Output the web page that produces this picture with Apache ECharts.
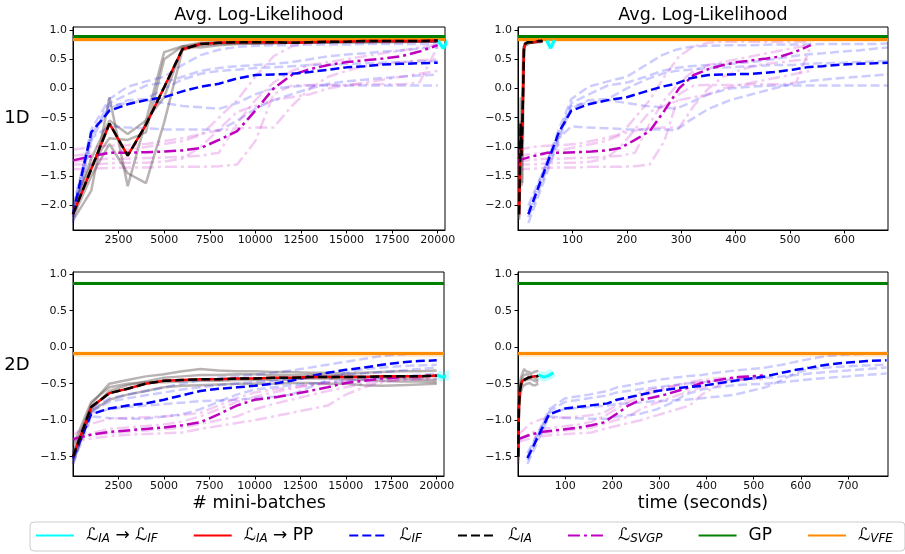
<!DOCTYPE html>
<html><head><meta charset="utf-8">
<script src="https://cdn.jsdelivr.net/npm/echarts@6/dist/echarts.min.js"></script>
<style>html,body{margin:0;padding:0;background:#fff}#chart{width:905px;height:554px}</style>
</head><body><div id="chart"></div>
<script>
// ---- evaluation points ----
const batches = [0,1000,2000,3000,4000,5000,6000,7000,8000,9000,10000,11000,12000,13000,14000,15000,16000,17000,18000,19000,20000];

// wall-clock time (s) at each evaluation point, per method
const timeIA1D   = [2,3.5,5,6.5,8,9.5,11,13,15.5,18,20.5,23,25.5,28,30.5,33,35.5,38,40.5,43,45];
const timeIF1D   = [19,75,98,130,165,200,235,265,290,315,350,390,430,470,505,530,560,595,625,655,680];
const timeSVGP1D = [0,27,54,81,108,135,161,188,215,242,269,296,323,350,377,404,430,457,484,511,538];
const timeIA2D   = [0.5,2,3.5,5,7,9,11,13,15,17,19,21,23,25,27,29,31,34,37,40,43];
const timeIF2D   = [20,66,100,150,190,210,255,295,330,355,390,420,460,525,560,590,620,655,700,740,782];
const timeSVGP2D = [0.5,26,52,78,104,130,156,182,208,234,260,286,312,338,364,390,416,442,468,494,520];

// ---- 1D: average log-likelihood ----
const ia1D   = [-2.15,-1.38,-0.60,-1.15,-0.62,0.02,0.67,0.76,0.78,0.79,0.79,0.79,0.78,0.79,0.80,0.80,0.81,0.81,0.81,0.81,0.82];
const if1D   = [-2.15,-0.75,-0.38,-0.27,-0.20,-0.15,-0.05,0.03,0.08,0.17,0.23,0.24,0.25,0.28,0.32,0.36,0.38,0.41,0.42,0.43,0.44];
const svgp1D = [-1.23,-1.16,-1.10,-1.10,-1.09,-1.08,-1.06,-1.02,-0.88,-0.73,-0.38,0.00,0.23,0.33,0.40,0.45,0.48,0.51,0.55,0.63,0.74];
const iaRuns1D = [
  [-2.25,-1.75,-0.15,-1.67,-0.55,0.62,0.72,0.78,0.79,0.79,0.79,0.80,0.80,0.80,0.80,0.81,0.81,0.81,0.81,0.81,0.82],
  [-2.05,-1.20,-0.55,-0.78,-0.55,-0.15,0.70,0.77,0.78,0.78,0.78,0.79,0.79,0.79,0.79,0.80,0.80,0.80,0.80,0.80,0.80],
  [-2.20,-1.50,-0.95,-1.45,-1.62,-0.58,0.65,0.74,0.76,0.77,0.77,0.78,0.78,0.78,0.79,0.79,0.79,0.80,0.80,0.80,0.80],
  [-2.00,-1.30,-0.85,-0.88,-0.75,0.50,0.72,0.70,0.74,0.76,0.77,0.77,0.78,0.78,0.78,0.79,0.79,0.79,0.79,0.80,0.80]
];
const ifRuns1D = [
  [-2.10,-0.70,-0.18,0.03,0.12,0.20,0.40,0.57,0.66,0.71,0.73,0.74,0.74,0.75,0.75,0.75,0.76,0.76,0.76,0.76,0.77],
  [-2.30,-0.90,-0.30,-0.25,-0.20,-0.25,-0.30,-0.32,-0.35,-0.25,-0.10,0.00,0.03,0.05,0.05,0.05,0.05,0.05,0.05,0.05,0.05],
  [-2.00,-0.80,-0.25,-0.10,0.05,0.10,0.20,0.30,0.35,0.38,0.40,0.42,0.45,0.50,0.55,0.58,0.60,0.63,0.65,0.68,0.70],
  [-2.20,-0.85,-0.65,-0.67,-0.68,-0.70,-0.70,-0.70,-0.72,-0.55,-0.35,-0.20,-0.10,0.00,0.08,0.12,0.15,0.18,0.20,0.22,0.24],
  [-2.15,-0.80,-0.35,-0.20,-0.18,0.00,0.15,0.25,0.30,0.32,0.35,0.36,0.38,0.40,0.40,0.42,0.43,0.44,0.45,0.46,0.47]
];
const svgpRuns1D = [
  [-1.38,-1.37,-1.36,-1.35,-1.35,-1.34,-1.34,-1.34,-1.33,-1.30,-0.90,-0.10,0.05,0.06,0.06,0.06,0.07,0.07,0.07,0.10,0.72],
  [-1.15,-1.12,-1.10,-1.05,-1.00,-0.95,-0.90,-0.80,-0.50,-0.20,0.20,0.55,0.72,0.78,0.80,0.80,0.80,0.80,0.80,0.80,0.80],
  [-1.05,-1.00,-0.98,-0.97,-0.95,-0.90,-0.85,-0.78,-0.72,-0.68,-0.67,-0.67,-0.30,0.00,0.20,0.30,0.38,0.42,0.45,0.48,0.50],
  [-1.25,-1.22,-1.20,-1.20,-1.19,-1.18,-1.17,-1.15,-1.10,-0.60,-0.20,0.10,0.30,0.40,0.45,0.50,0.55,0.60,0.65,0.70,0.75],
  [-1.30,-1.30,-1.28,-1.27,-1.27,-1.25,-1.20,-1.00,-0.70,-0.40,-0.30,-0.20,-0.15,-0.10,0.00,0.05,0.10,0.15,0.20,0.25,0.30]
];
const switchBatches1D = [20000,20300,20600];
const switchTime1D    = [53,60,67];
const switchLL1D      = [0.82,0.69,0.83];
const gp1D  = {mean: 0.895, lo: 0.88, hi: 0.91};
const vfe1D = {mean: 0.845, lo: 0.80, hi: 0.86};

// ---- 2D: average log-likelihood ----
const ia2D   = [-1.50,-0.82,-0.63,-0.57,-0.50,-0.46,-0.45,-0.44,-0.44,-0.43,-0.43,-0.42,-0.42,-0.41,-0.41,-0.41,-0.41,-0.40,-0.40,-0.40,-0.39];
const if2D   = [-1.52,-0.92,-0.84,-0.80,-0.77,-0.72,-0.66,-0.60,-0.57,-0.55,-0.53,-0.50,-0.46,-0.40,-0.35,-0.31,-0.28,-0.24,-0.21,-0.19,-0.18];
const svgp2D = [-1.26,-1.20,-1.16,-1.14,-1.12,-1.10,-1.07,-1.03,-0.92,-0.80,-0.72,-0.69,-0.65,-0.60,-0.55,-0.49,-0.46,-0.43,-0.41,-0.40,-0.39];
const iaRuns2D = [
  [-1.45,-0.78,-0.50,-0.45,-0.40,-0.37,-0.33,-0.30,-0.32,-0.33,-0.33,-0.34,-0.34,-0.35,-0.35,-0.36,-0.35,-0.34,-0.33,-0.33,-0.32],
  [-1.55,-0.88,-0.72,-0.65,-0.60,-0.55,-0.53,-0.52,-0.51,-0.50,-0.50,-0.50,-0.49,-0.49,-0.50,-0.50,-0.52,-0.53,-0.52,-0.51,-0.50],
  [-1.60,-0.85,-0.60,-0.52,-0.47,-0.42,-0.40,-0.38,-0.38,-0.37,-0.37,-0.38,-0.38,-0.38,-0.38,-0.39,-0.40,-0.42,-0.43,-0.44,-0.45],
  [-1.35,-0.75,-0.55,-0.50,-0.48,-0.48,-0.47,-0.46,-0.46,-0.45,-0.45,-0.45,-0.44,-0.43,-0.43,-0.44,-0.45,-0.46,-0.47,-0.47,-0.48]
];
const ifRuns2D = [
  [-1.50,-0.85,-0.70,-0.65,-0.60,-0.55,-0.50,-0.45,-0.42,-0.40,-0.38,-0.35,-0.32,-0.28,-0.24,-0.20,-0.16,-0.12,-0.10,-0.09,-0.08],
  [-1.60,-0.95,-0.97,-0.98,-0.98,-0.95,-0.92,-0.85,-0.75,-0.65,-0.58,-0.55,-0.52,-0.50,-0.48,-0.46,-0.44,-0.42,-0.40,-0.38,-0.36],
  [-1.45,-0.90,-0.85,-0.82,-0.80,-0.78,-0.76,-0.74,-0.73,-0.72,-0.70,-0.68,-0.65,-0.55,-0.45,-0.35,-0.30,-0.28,-0.26,-0.25,-0.24],
  [-1.55,-0.88,-0.75,-0.70,-0.66,-0.62,-0.58,-0.55,-0.52,-0.50,-0.48,-0.46,-0.44,-0.42,-0.40,-0.38,-0.36,-0.34,-0.32,-0.30,-0.28]
];
const svgpRuns2D = [
  [-1.30,-1.25,-1.22,-1.20,-1.19,-1.18,-1.17,-1.12,-1.08,-1.04,-1.00,-0.95,-0.90,-0.85,-0.80,-0.65,-0.55,-0.48,-0.45,-0.44,-0.44],
  [-1.20,-1.05,-0.98,-0.97,-0.96,-0.95,-0.93,-0.90,-0.80,-0.70,-0.62,-0.58,-0.55,-0.52,-0.50,-0.48,-0.46,-0.44,-0.42,-0.41,-0.40],
  [-1.28,-1.18,-1.12,-1.10,-1.08,-1.06,-1.02,-0.95,-0.85,-0.75,-0.68,-0.62,-0.57,-0.52,-0.48,-0.45,-0.43,-0.42,-0.41,-0.40,-0.38],
  [-1.25,-1.20,-1.18,-1.16,-1.14,-1.12,-1.10,-1.05,-1.00,-0.95,-0.85,-0.78,-0.72,-0.66,-0.60,-0.55,-0.50,-0.47,-0.45,-0.43,-0.42]
];
const switchBatches2D = [20000,20300,20600,20900];
const switchTime2D    = [43,55,65,75];
const switchLL2D      = [-0.38,-0.41,-0.39,-0.35];
const gp2D  = {mean: 0.875, lo: 0.855, hi: 0.895};
const vfe2D = {mean: -0.08, lo: -0.13, hi: -0.06};

// ---- axis ticks ----
const batchTicks  = [2500,5000,7500,10000,12500,15000,17500,20000];
const timeTicks1D = [100,200,300,400,500,600];
const timeTicks2D = [100,200,300,400,500,600,700];
const llTicks1D   = [-2.0,-1.5,-1.0,-0.5,0.0,0.5,1.0];
const llTicks2D   = [-1.5,-1.0,-0.5,0.0,0.5,1.0];

// ---- drawing ----
const FONT = "'DejaVu Sans', sans-serif";
const C = {cyan:'#00ffff', red:'#ff0000', blue:'#0000ff', black:'#000000', mag:'#bf00bf', green:'#008000', orange:'#ff8c00'};
const DASH = [9,4], DASHDOT = [12,4,3,4];
const pairs = (xs, ys) => xs.map((x, i) => [x, ys[i]]);

const grids = [
  {left:73,  top:27,  width:372, height:203},
  {left:518, top:27,  width:370, height:203},
  {left:73,  top:272, width:371, height:204},
  {left:518, top:272, width:370, height:204}
];

function xAxisFor(i, max, ticks){
  return {type:'value', gridIndex:i, min:0, max:max,
    axisLine:{show:true, onZero:false, lineStyle:{color:'#000', width:1}},
    axisTick:{show:true, inside:false, length:3.5, customValues:ticks, lineStyle:{color:'#000'}},
    axisLabel:{customValues:ticks, margin:5, color:'#111', fontFamily:FONT, fontSize:11, formatter:v=>String(v)},
    splitLine:{show:false}};
}
function yAxisFor(i, min, max, ticks){
  return {type:'value', gridIndex:i, min:min, max:max,
    axisLine:{show:true, onZero:false, lineStyle:{color:'#000', width:1}},
    axisTick:{show:true, inside:false, length:3.5, customValues:ticks, lineStyle:{color:'#000'}},
    axisLabel:{customValues:ticks, margin:6, color:'#111', fontFamily:FONT, fontSize:11,
      formatter:v=>(v < 0 ? '\u2212' : '') + Math.abs(v).toFixed(1)},
    splitLine:{show:false}};
}

const series = [];
function line(g, name, xs, ys, color, width, type, z){
  series.push({type:'line', name:name, xAxisIndex:g, yAxisIndex:g, data:pairs(xs, ys),
    symbol:'none', showSymbol:false, silent:true, z:z, clip:true,
    itemStyle:{color:color}, lineStyle:{color:color, width:width, type:type}});
}
function level(g, name, band, color, bandColor, z){
  series.push({type:'line', name:name, xAxisIndex:g, yAxisIndex:g, data:[], symbol:'none', silent:true, z:z,
    itemStyle:{color:color}, lineStyle:{color:color, width:3, type:'solid'},
    markArea:{silent:true, itemStyle:{color:bandColor}, data:[[{yAxis:band.lo},{yAxis:band.hi}]]},
    markLine:{silent:true, symbol:['none','none'], label:{show:false},
      lineStyle:{color:color, width:3, type:'solid'}, data:[{yAxis:band.mean}]}});
}

function panel(g, xIA, xIF, xSV, xSw, d, swBand){
  d.iaRuns.forEach(r => line(g, 'IA run', xIA, r, 'rgba(90,75,75,0.42)', 2.5, 'solid', 2));
  d.ifRuns.forEach(r => line(g, 'IF run', xIF, r, 'rgba(0,0,255,0.2)', 2.5, DASH, 2));
  d.svRuns.forEach(r => line(g, 'SVGP run', xSV, r, 'rgba(191,0,191,0.2)', 2.5, DASHDOT, 2));
  level(g, 'VFE', d.vfe, C.orange, 'rgba(255,140,0,0.22)', 3);
  level(g, 'GP', d.gp, C.green, 'rgba(0,128,0,0.18)', 4);
  line(g, 'SVGP', xSV, d.sv, C.mag, 2.5, DASHDOT, 5);
  line(g, 'IF', xIF, d.if, C.blue, 2.5, DASH, 6);
  line(g, 'IA band', xSw, d.sw, 'rgba(0,255,255,0.25)', swBand, 'solid', 6);
  line(g, 'IA→IF', xSw, d.sw, C.cyan, 3, 'solid', 7);
  line(g, 'IA→PP', xIA, d.ia, C.red, 2.5, 'solid', 8);
  line(g, 'IA', xIA, d.ia, C.black, 2.5, DASH, 9);
}

const d1 = {ia:ia1D, if:if1D, sv:svgp1D, iaRuns:iaRuns1D, ifRuns:ifRuns1D, svRuns:svgpRuns1D, sw:switchLL1D, gp:gp1D, vfe:vfe1D};
const d2 = {ia:ia2D, if:if2D, sv:svgp2D, iaRuns:iaRuns2D, ifRuns:ifRuns2D, svRuns:svgpRuns2D, sw:switchLL2D, gp:gp2D, vfe:vfe2D};
panel(0, batches, batches, batches, switchBatches1D, d1, 5);
panel(1, timeIA1D, timeIF1D, timeSVGP1D, switchTime1D, d1, 5);
panel(2, batches, batches, batches, switchBatches2D, d2, 9);
panel(3, timeIA2D, timeIF2D, timeSVGP2D, switchTime2D, d2, 9);

const legendLabels = {
  'IA→IF': '{l|ℒ}{s|IA}{t| → }{l|ℒ}{s|IF}',
  'IA→PP': '{l|ℒ}{s|IA}{t| → PP}',
  'IF':    '{l|ℒ}{s|IF}',
  'IA':    '{l|ℒ}{s|IA}',
  'SVGP':  '{l|ℒ}{s|SVGP}',
  'GP':    '{t|GP}',
  'VFE':   '{l|ℒ}{s|VFE}'
};

function label(text, x, y, size){
  return {type:'text', x:x, y:y, silent:true,
    style:{text:text, font:size + 'px ' + FONT, fill:'#000', align:'center', verticalAlign:'middle'}};
}

const chart = echarts.init(document.getElementById('chart'), null, {renderer:'canvas'});
chart.setOption({
  animation:false,
  backgroundColor:'#fff',
  grid: grids.map(g => Object.assign({show:true, borderColor:'#000', borderWidth:1, backgroundColor:'transparent', containLabel:false}, g)),
  xAxis:[xAxisFor(0, 20400, batchTicks), xAxisFor(1, 680, timeTicks1D), xAxisFor(2, 20400, batchTicks), xAxisFor(3, 785, timeTicks2D)],
  yAxis:[yAxisFor(0, -2.42, 1.05, llTicks1D), yAxisFor(1, -2.42, 1.05, llTicks1D), yAxisFor(2, -1.765, 1.03, llTicks2D), yAxisFor(3, -1.765, 1.03, llTicks2D)],
  legend:{
    data:['IA→IF','IA→PP','IF','IA','SVGP','GP','VFE'],
    left:30, top:522, orient:'horizontal', selectedMode:false,
    padding:[5,12,6,5], itemGap:35, itemWidth:38, itemHeight:12,
    backgroundColor:'#fff', borderColor:'#cccccc', borderWidth:1, borderRadius:4,
    itemStyle:{opacity:0, borderWidth:0},
    formatter: n => legendLabels[n],
    textStyle:{padding:[0,0,0,7], rich:{
      l:{fontFamily:FONT, fontSize:17, color:'#000'},
      s:{fontFamily:FONT, fontSize:12, fontStyle:'italic', color:'#000', padding:[7,0,0,0]},
      t:{fontFamily:FONT, fontSize:17, color:'#000'}
    }}
  },
  graphic:[
    label('Avg. Log-Likelihood', 259, 15, 17.5),
    label('Avg. Log-Likelihood', 703, 15, 17.5),
    label('1D', 17, 118, 18),
    label('2D', 17, 365, 18),
    label('# mini-batches', 259, 503, 17.5),
    label('time (seconds)', 703, 503, 17.5)
  ],
  series: series
});
</script></body></html>
